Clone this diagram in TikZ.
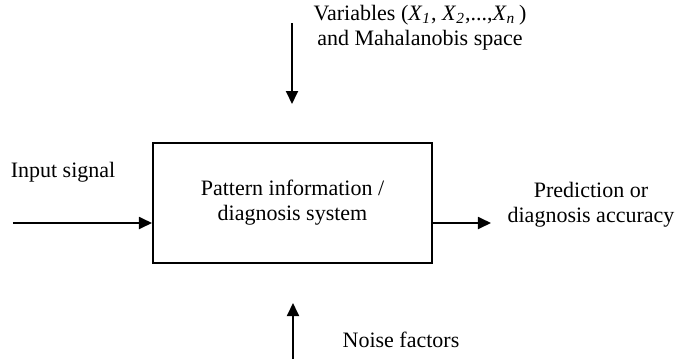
\documentclass[tikz,border=0pt]{standalone}
\usepackage{fontspec}
\setmainfont{Liberation Serif}
\usetikzlibrary{arrows.meta}
\newcommand{\vsub}[1]{\textit{X}\textsubscript{\textit{#1}}}
\begin{document}
\begin{tikzpicture}[x=0.5pt,y=-0.5pt,
  lbl/.style={font=\fontsize{11}{12.5}\selectfont,inner sep=0pt,align=center},
  sysbox/.style={draw,line width=1pt,minimum width=139.5pt,minimum height=60pt,inner sep=0pt,
    font=\fontsize{11}{12.5}\selectfont,align=center},
  flow/.style={line width=0.9pt,-{Triangle[length=6.5pt,width=6pt]}}]
  \useasboundingbox (0,0) rectangle (677,359);
  % central system block
  \node[sysbox] (sys) at (292.5,203) {Pattern information /\\diagnosis system};
  % labels
  \node[lbl] (vars) at (420,27.5) {Variables (\vsub{1}, \vsub{2},...,\vsub{n}\,)\\and Mahalanobis space};
  \node[lbl,anchor=base] (insig) at (63,177) {Input signal};
  \node[lbl] (pred) at (591,204.5) {Prediction or\\diagnosis accuracy};
  \node[lbl,anchor=base] (noise) at (401,347) {Noise factors};
  % arrow end points
  \coordinate (inStart) at (13,223);
  \coordinate (outEnd) at (491,223);
  \coordinate (topStart) at (292,23);
  \coordinate (topEnd) at (292,104);
  \coordinate (botStart) at (293,359);
  \coordinate (botEnd) at (293,303);
  % connectors
  \draw[flow] (inStart) -- (sys.west |- inStart);
  \draw[flow] (sys.east |- outEnd) -- (outEnd);
  \draw[flow] (topStart) -- (topEnd);
  \draw[flow] (botStart) -- (botEnd);
\end{tikzpicture}
\end{document}
